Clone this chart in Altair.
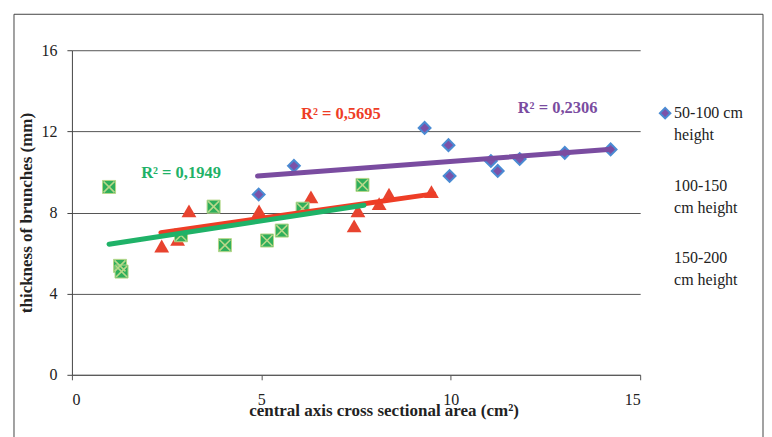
import altair as alt
import pandas as pd

# ---------------- data ----------------
series = ["50-100 cm height", "100-150 cm height", "150-200 cm height"]
legend_lines = [["50-100 cm", "height"], ["100-150", "cm height"], ["150-200", "cm height"]]

x_a = [4.93, 5.86, 9.31, 9.94, 9.97, 11.06, 11.24, 11.82, 13.01, 14.22]
y_a = [8.89, 10.30, 12.17, 11.32, 9.80, 10.54, 10.05, 10.64, 10.94, 11.11]
x_b = [2.37, 2.79, 3.09, 4.94, 6.31, 7.45, 7.55, 8.11, 8.37, 9.49]
y_b = [6.35, 6.68, 8.08, 8.08, 8.77, 7.34, 8.08, 8.44, 8.90, 9.03]
x_c = [0.98, 1.27, 1.31, 2.88, 3.74, 4.04, 5.15, 5.54, 6.09, 7.67]
y_c = [9.26, 5.37, 5.09, 6.88, 8.29, 6.39, 6.62, 7.11, 8.19, 9.36]

trend_x = [[4.90, 14.24], [2.35, 9.55], [0.98, 7.71]]
trend_y = [[9.80, 11.12], [7.01, 8.92], [6.44, 8.36]]

r2_text = ["R² = 0,2306", "R² = 0,5695", "R² = 0,1949"]
r2_x = [12.82, 7.10, 2.88]
r2_y = [13.17, 12.86, 9.97]

x_ticks = [0, 5, 10, 15]
y_ticks = [0, 4, 8, 12, 16]

x_title = "central axis cross sectional area (cm²)"
y_title = "thickness of brunches (mm)"

# ---------------- styling ----------------
FONT = "Liberation Serif"
line_colors = ["#7A4CA0", "#EE3D26", "#1FB268"]
W, H = 569, 325

pts_a = pd.DataFrame({"x": x_a, "y": y_a, "s": series[0]})
pts_b = pd.DataFrame({"x": x_b, "y": y_b, "s": series[1]})
pts_c = pd.DataFrame({"x": x_c, "y": y_c, "s": series[2]})

trend_rows = []
for s, xs, ys in zip(series, trend_x, trend_y):
    for xv, yv in zip(xs, ys):
        trend_rows.append({"x": xv, "y": yv, "s": s})
trend_df = pd.DataFrame(trend_rows)

r2_df = pd.DataFrame({"x": r2_x, "y": r2_y, "t": r2_text, "s": series})

X = alt.X(
    "x:Q",
    scale=alt.Scale(domain=[0, 15], nice=False, zero=False),
    axis=alt.Axis(
        values=x_ticks, grid=False, title=x_title,
        domainColor="#555", tickColor="#555", tickSize=5,
        labelFont=FONT, labelFontSize=16, labelColor="#222", labelPadding=12,
        titleFont=FONT, titleFontSize=17, titleFontWeight="bold", titleColor="#222",
        titleX=312, titleY=36, titleBaseline="middle",
    ),
)
Y = alt.Y(
    "y:Q",
    scale=alt.Scale(domain=[0, 16], nice=False, zero=False),
    axis=alt.Axis(
        values=y_ticks, grid=True, gridColor="#555", gridWidth=1, title=y_title,
        domainColor="#444", tickColor="#444", tickSize=5,
        labelFont=FONT, labelFontSize=16, labelColor="#222", labelPadding=10,
        titleFont=FONT, titleFontSize=17, titleFontWeight="bold", titleColor="#222",
        titlePadding=5,
    ),
)
color_scale = alt.Scale(domain=series, range=line_colors)

diamonds = alt.Chart(pts_a).mark_point(
    shape="diamond", filled=True, size=140, fill="#7B52A8", stroke="#4A8BD3",
    strokeWidth=2, opacity=1,
).encode(x=X, y=Y)

triangles = alt.Chart(pts_b).mark_point(
    shape="triangle-up", filled=True, size=220, fill="#E8432F", opacity=1,
    strokeWidth=0,
).encode(x=X, y=Y)

squares = alt.Chart(pts_c).mark_point(
    shape="square", filled=True, size=170, fill="#2FAE5B", stroke="#B8D88A",
    strokeWidth=1, opacity=1,
).encode(x=X, y=Y)

crosses = alt.Chart(pts_c).mark_point(
    shape="M-1,-1L1,1M-1,1L1,-1", filled=False, size=120, stroke="#B8D88A",
    strokeWidth=1.6, opacity=1,
).encode(x=X, y=Y)

trends = alt.Chart(trend_df).mark_line(strokeWidth=5, strokeCap="round").encode(
    x=X, y=Y,
    color=alt.Color("s:N", scale=color_scale, legend=None),
    detail="s:N",
)

r2_labels = alt.Chart(r2_df).mark_text(
    font=FONT, fontSize=16.5, fontWeight="bold", align="center", baseline="middle",
).encode(
    x=X, y=Y, text="t:N",
    color=alt.Color("s:N", scale=color_scale, legend=None),
)

one = pd.DataFrame({"k": [0]})
frame_color = "#444"
frame_left = alt.Chart(one).mark_rule(color=frame_color, strokeWidth=1).encode(
    x=alt.value(-58), y=alt.value(-36), y2=alt.value(388))
frame_top = alt.Chart(one).mark_rule(color=frame_color, strokeWidth=1).encode(
    x=alt.value(-58), x2=alt.value(692), y=alt.value(-36))
frame_right = alt.Chart(one).mark_rule(color=frame_color, strokeWidth=1).encode(
    x=alt.value(692), y=alt.value(-36), y2=alt.value(388))

# manual legend (only the first entry shows a marker, as in the reference)
leg_marker = alt.Chart(one).mark_point(
    shape="diamond", filled=True, size=110, fill="#7B52A8", stroke="#4A8BD3",
    strokeWidth=2, opacity=1,
).encode(x=alt.value(594), y=alt.value(63))

leg_tops = [55, 128, 200]
leg_texts = []
for lines, top in zip(legend_lines, leg_tops):
    leg_texts.append(
        alt.Chart(one).mark_text(
            font=FONT, fontSize=16, color="#222", align="left", baseline="top",
            lineBreak="\n", lineHeight=22,
        ).encode(x=alt.value(603), y=alt.value(top), text=alt.value("\n".join(lines)))
    )

chart = alt.layer(
    frame_left, frame_top, frame_right,
    diamonds, triangles, squares, crosses,
    trends, r2_labels, leg_marker, *leg_texts,
).properties(
    width=W, height=H,
    padding={"left": 5, "top": 5, "right": 0, "bottom": 0},
    background="white",
).configure_view(stroke=None)

chart.save("out.html", embed_options={"renderer": "svg", "actions": False})
